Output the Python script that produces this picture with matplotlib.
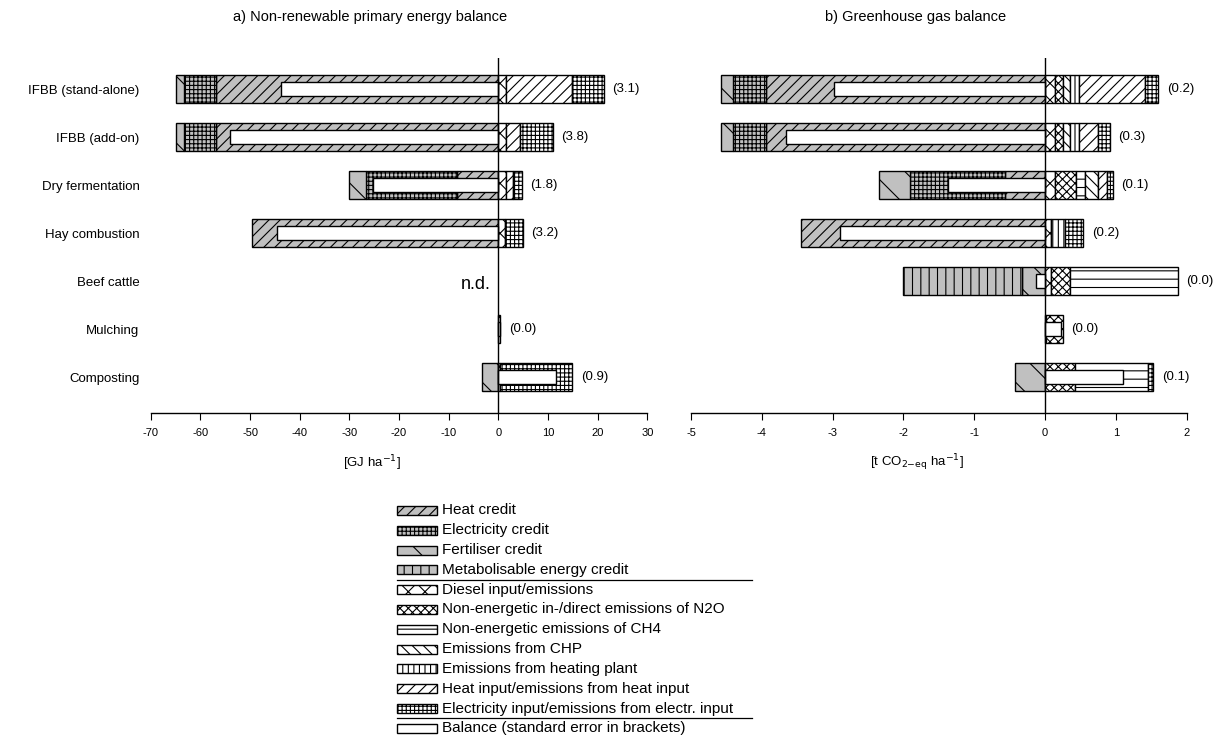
import matplotlib
matplotlib.use('Agg')
import matplotlib.pyplot as plt
from matplotlib.patches import Rectangle
import numpy as np

plt.rcParams['font.family'] = ['Liberation Sans', 'DejaVu Sans']
plt.rcParams['hatch.linewidth'] = 0.8

nan = np.nan
categories = ['IFBB (stand-alone)', 'IFBB (add-on)', 'Dry fermentation', 'Hay combustion',
              'Beef cattle', 'Mulching', 'Composting']

# ---- a) Non-renewable primary energy [GJ ha-1] ----
pe_heat_credit   = [56.8, 56.8, 8.4, 49.6, nan, 0.0, 0.0]
pe_elec_credit   = [6.4, 6.4, 18.3, 0.0, nan, 0.0, 0.0]
pe_fert_credit   = [1.8, 1.8, 3.3, 0.0, nan, 0.0, 3.3]
pe_meta_credit   = [0.0, 0.0, 0.0, 0.0, nan, 0.0, 0.0]
pe_diesel        = [1.5, 1.5, 1.5, 1.3, nan, 0.4, 0.3]
pe_n2o           = [0.0, 0.0, 0.0, 0.0, nan, 0.0, 0.0]
pe_ch4           = [0.0, 0.0, 0.0, 0.0, nan, 0.0, 0.0]
pe_chp           = [0.0, 0.0, 0.0, 0.0, nan, 0.0, 0.0]
pe_heating_plant = [0.0, 0.0, 0.0, 0.0, nan, 0.0, 0.0]
pe_heat_input    = [13.3, 2.9, 1.5, 0.0, nan, 0.0, 0.0]
pe_elec_input    = [6.5, 6.5, 1.7, 3.7, nan, 0.0, 14.6]
pe_balance       = [-43.7, -54.1, -25.3, -44.6, nan, 0.4, 11.6]
pe_se            = [3.1, 3.8, 1.8, 3.2, nan, 0.0, 0.9]

# ---- b) Greenhouse gas balance [t CO2-eq ha-1] ----
gh_heat_credit   = [3.94, 3.94, 0.57, 3.44, 0.0, 0.0, 0.0]
gh_elec_credit   = [0.46, 0.46, 1.34, 0.0, 0.0, 0.0, 0.0]
gh_fert_credit   = [0.18, 0.18, 0.43, 0.0, 0.33, 0.0, 0.43]
gh_meta_credit   = [0.0, 0.0, 0.0, 0.0, 1.68, 0.0, 0.0]
gh_diesel        = [0.14, 0.14, 0.14, 0.09, 0.09, 0.02, 0.0]
gh_n2o           = [0.11, 0.11, 0.30, 0.0, 0.26, 0.23, 0.42]
gh_ch4           = [0.0, 0.0, 0.12, 0.0, 1.53, 0.0, 1.04]
gh_chp           = [0.10, 0.10, 0.19, 0.0, 0.0, 0.0, 0.0]
gh_heating_plant = [0.13, 0.13, 0.0, 0.19, 0.0, 0.0, 0.0]
gh_heat_input    = [0.93, 0.27, 0.13, 0.0, 0.0, 0.0, 0.0]
gh_elec_input    = [0.19, 0.17, 0.08, 0.26, 0.0, 0.0, 0.07]
gh_balance       = [-2.98, -3.66, -1.37, -2.90, -0.13, 0.23, 1.10]
gh_se            = [0.2, 0.3, 0.1, 0.2, 0.0, 0.0, 0.1]

GRAY = '#c0c0c0'
# legend names and styles (hatch, face colour)
neg_names = ['Heat credit', 'Electricity credit', 'Fertiliser credit', 'Metabolisable energy credit']
neg_styles = [('///', GRAY), ('++++', GRAY), ('\\', GRAY), ('||', GRAY)]
pos_names = ['Diesel input/emissions', 'Non-energetic in-/direct emissions of N2O',
             'Non-energetic emissions of CH4', 'Emissions from CHP', 'Emissions from heating plant',
             'Heat input/emissions from heat input', 'Electricity input/emissions from electr. input']
pos_styles = [('xx', 'white'), ('xxxx', 'white'), ('--', 'white'), ('\\\\\\', 'white'),
              ('|||', 'white'), ('///', 'white'), ('++++', 'white')]

W, H = 1228, 747
fig = plt.figure(figsize=(W / 100, H / 100), dpi=100)

def px_axes(x0, x1, y0, y1):
    return fig.add_axes([x0 / W, 1 - y1 / H, (x1 - x0) / W, (y1 - y0) / H])

axL = px_axes(150.7, 647.4, 58, 413)
axR = px_axes(691, 1186.7, 58, 413)

ypos = np.arange(len(categories))
BH, IH = 0.58, 0.28

def draw_panel(ax, negs, poss, balance, se, xlim, ticks):
    for i, y in enumerate(ypos):
        if np.isnan(balance[i]):
            continue
        start = 0.0
        for vals, (h, fc) in zip(negs, neg_styles):
            v = vals[i]
            if v > 0:
                ax.barh(y, -v, left=-start, height=BH, color=fc, hatch=h,
                        edgecolor='black', linewidth=1.0, zorder=2)
                start += v
        start = 0.0
        for vals, (h, fc) in zip(poss, pos_styles):
            v = vals[i]
            if v > 0:
                ax.barh(y, v, left=start, height=BH, color=fc, hatch=h,
                        edgecolor='black', linewidth=1.0, zorder=2)
                start += v
        ax.barh(y, balance[i], left=0, height=IH, color='white',
                edgecolor='black', linewidth=1.0, zorder=3)
        ax.annotate(f'({se[i]:.1f})', xy=(start, y), xytext=(6, 0),
                    textcoords='offset points', va='center', ha='left', fontsize=9.5)
    ax.axvline(0, color='black', linewidth=1.0, zorder=5)
    ax.set_xlim(*xlim)
    ax.set_ylim(6.75, -0.646)
    ax.set_xticks(ticks)
    ax.set_xticklabels([str(t) for t in ticks])
    ax.tick_params(axis='x', direction='out', length=5, labelsize=8, pad=6)
    for s in ['left', 'top', 'right']:
        ax.spines[s].set_visible(False)
    ax.spines['bottom'].set_linewidth(1.0)

draw_panel(axL,
           [pe_heat_credit, pe_elec_credit, pe_fert_credit, pe_meta_credit],
           [pe_diesel, pe_n2o, pe_ch4, pe_chp, pe_heating_plant, pe_heat_input, pe_elec_input],
           pe_balance, pe_se, (-70, 30), list(range(-70, 31, 10)))
draw_panel(axR,
           [gh_heat_credit, gh_elec_credit, gh_fert_credit, gh_meta_credit],
           [gh_diesel, gh_n2o, gh_ch4, gh_chp, gh_heating_plant, gh_heat_input, gh_elec_input],
           gh_balance, gh_se, (-5, 2), list(range(-5, 3)))

axL.set_yticks(ypos)
axL.set_yticklabels(categories, fontsize=9.5)
axL.tick_params(axis='y', length=0, pad=8)
axR.set_yticks([])
axL.text(-1.6, 4.08, 'n.d.', ha='right', va='center', fontsize=13)

fig.text(370 / W, 1 - 17 / H, 'a) Non-renewable primary energy balance', ha='center', va='center', fontsize=10.5)
fig.text(916 / W, 1 - 17 / H, 'b) Greenhouse gas balance', ha='center', va='center', fontsize=10.5)
fig.text(372 / W, 1 - 463 / H, '[GJ ha$^{-1}$]', ha='center', va='center', fontsize=9.5)
fig.text(917 / W, 1 - 463 / H, '[t CO$_{2\\mathrm{-eq}}$ ha$^{-1}$]', ha='center', va='center', fontsize=9.5)

# legend drawn in pixel coordinates
axLeg = fig.add_axes([0, 0, 1, 1])
axLeg.set_xlim(0, W)
axLeg.set_ylim(H, 0)
axLeg.axis('off')
names = neg_names + pos_names + ['Balance (standard error in brackets)']
styles = neg_styles + pos_styles + [('', 'white')]
row0, dy = 510.5, 19.8
for k, (nm, (h, fc)) in enumerate(zip(names, styles)):
    yc = row0 + k * dy
    axLeg.add_patch(Rectangle((397, yc - 4.5), 40, 9, facecolor=fc, hatch=h,
                              edgecolor='black', linewidth=1.0))
    axLeg.text(442, yc, nm, ha='left', va='center', fontsize=11)
for yl in (row0 + 3.5 * dy, row0 + 10.5 * dy):
    axLeg.plot([397, 752], [yl, yl], color='black', linewidth=0.9)

fig.savefig('out.png', dpi=100)
